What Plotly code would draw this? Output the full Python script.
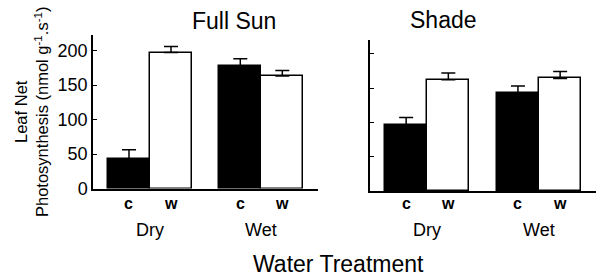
import plotly.graph_objects as go

# Data
treatments = ["c", "w", "c", "w"]
water_groups = ["Dry", "Wet"]
full_sun_values = [43, 197, 177, 163]
full_sun_errors = [13, 9, 11, 8]
shade_values = [96, 162, 143, 164]
shade_errors = [11, 10, 10, 10]
bar_colors = ["black", "white", "black", "white"]
y_ticks = [0, 50, 100, 150, 200]

positions = [0, 1, 2.65, 3.65]
group_centers = [0.5, 3.15]

W, H = 600, 279
FONT = "Liberation Sans, Arial, sans-serif"

fig = go.Figure()

def add_panel(values, errors, xa, ya):
    fig.add_trace(go.Bar(
        x=positions, y=values, width=[1] * 4,
        marker=dict(color=bar_colors, line=dict(color="black", width=1.5)),
        error_y=dict(type="data", symmetric=False, array=errors,
                     arrayminus=[0] * 4, color="black", thickness=1.5, width=7),
        xaxis=xa, yaxis=ya, showlegend=False, hoverinfo="skip",
    ))

add_panel(full_sun_values, full_sun_errors, "x", "y")
add_panel(shade_values, shade_errors, "x2", "y2")

xcommon = dict(showline=True, linecolor="black", linewidth=1.5, ticks="",
               showticklabels=False, showgrid=False, automargin=False,
               zeroline=False, range=[-0.857, 4.5])
ycommon = dict(showline=True, linecolor="black", linewidth=1.5, ticks="inside",
               ticklen=4, tickcolor="black", tickvals=y_ticks, showgrid=False,
               zeroline=False, automargin=False,
               tickfont=dict(size=18, family=FONT, color="black"))

fig.update_layout(
    width=W, height=H, margin=dict(l=0, r=0, t=0, b=0),
    plot_bgcolor="white", paper_bgcolor="white",
    font=dict(family=FONT, color="black"),
    xaxis=dict(domain=[93 / W, 318 / W], anchor="y", **xcommon),
    yaxis=dict(domain=[1 - 188.5 / H, 1 - 35 / H], anchor="x", range=[0, 222.5],
               **ycommon),
    xaxis2=dict(domain=[370 / W, 596 / W], anchor="y2", **xcommon),
    yaxis2=dict(domain=[1 - 191 / H, 1 - 40 / H], anchor="x2", range=[0, 220],
                showticklabels=False, **ycommon),
    bargap=0,
)

ann = []
for xr in ("x", "x2"):
    for p, t in zip(positions, treatments):
        ann.append(dict(x=p, xref=xr, y=1 - 203 / H, yref="paper", text="<b>" + t + "</b>",
                        showarrow=False, xanchor="center", yanchor="middle",
                        font=dict(size=16, family=FONT, color="black")))
    for gc, name in zip(group_centers, water_groups):
        ann.append(dict(x=gc, xref=xr, y=1 - 230 / H, yref="paper", text=name,
                        showarrow=False, xanchor="center", yanchor="middle",
                        font=dict(size=18, family=FONT, color="black")))

ann.append(dict(x=234 / W, y=1 - 21 / H, xref="paper", yref="paper", text="Full Sun",
                showarrow=False, xanchor="center", yanchor="middle",
                font=dict(size=23, family=FONT, color="black")))
ann.append(dict(x=443 / W, y=1 - 20 / H, xref="paper", yref="paper", text="Shade",
                showarrow=False, xanchor="center", yanchor="middle",
                font=dict(size=23, family=FONT, color="black")))
ann.append(dict(x=338 / W, y=1 - 264 / H, xref="paper", yref="paper",
                text="Water Treatment", showarrow=False, xanchor="center",
                yanchor="middle", font=dict(size=23, family=FONT, color="black")))
ann.append(dict(x=31 / W, y=1 - 112 / H, xref="paper", yref="paper",
                text="Leaf Net<br>Photosynthesis (nmol g<sup>-1</sup>.s<sup>-1</sup>)",
                showarrow=False, xanchor="center", yanchor="middle", textangle=-90,
                font=dict(size=16.5, family=FONT, color="black")))
fig.update_layout(annotations=ann)

fig.write_html("out.html", config={"displayModeBar": False},
               post_script="document.body.style.margin='0';document.body.style.overflow='hidden';")
